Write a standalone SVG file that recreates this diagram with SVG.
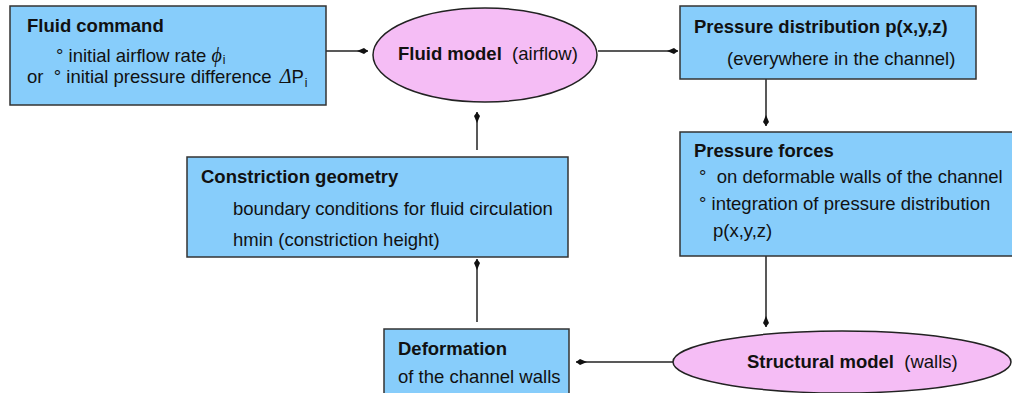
<svg xmlns="http://www.w3.org/2000/svg" width="1012" height="393" viewBox="0 0 1012 393">
<style>
.box{fill:#87CDFB;stroke:#333;stroke-width:1.5}
.ell{fill:#F5BDF5;stroke:#222;stroke-width:1.5}
.t{font-family:"Liberation Sans",Arial,sans-serif;font-size:18.5px;fill:#111;white-space:pre}
.b{font-weight:bold}
.sym{font-family:"Liberation Serif","Times New Roman",serif;font-style:italic;font-size:20px}
.sub{font-size:12px}
.c{fill:none;stroke:#222;stroke-width:1.5}
</style>
<defs>
<marker id="ah" viewBox="-12 -4 13 8" refX="0" refY="0" markerWidth="13" markerHeight="8" markerUnits="userSpaceOnUse" orient="auto">
<path d="M0,0 L-4,-3 L-11,0 L-4,3 Z" fill="#111"/>
</marker>
</defs>
<rect width="1012" height="393" fill="#fff"/>
<g id="connectors">
<path class="c" d="M326,51 H368" marker-end="url(#ah)"/>
<path class="c" d="M598,51 H678" marker-end="url(#ah)"/>
<path class="c" d="M766,79 V126" marker-end="url(#ah)"/>
<path class="c" d="M766,256 V327" marker-end="url(#ah)"/>
<path class="c" d="M673,362 H576" marker-end="url(#ah)"/>
<path class="c" d="M477,322 V259" marker-end="url(#ah)"/>
<path class="c" d="M477,150 V112" marker-end="url(#ah)"/>
</g>
<g id="fluid-command">
<rect class="box" x="10" y="6" width="316" height="99"/>
<text class="t b" x="27" y="32">Fluid command</text>
<text class="t" x="56" y="62">° initial airflow rate <tspan class="sym">ϕ</tspan><tspan class="sub" dx="1" dy="2">i</tspan></text>
<text class="t" x="27" y="83">or  ° initial pressure difference <tspan class="sym" dx="3">Δ</tspan>P<tspan class="sub" dx="1" dy="4">i</tspan></text>
</g>
<g id="fluid-model">
<ellipse class="ell" cx="485" cy="55" rx="112" ry="47"/>
<text class="t" x="398" y="60"><tspan class="b">Fluid model</tspan>  (airflow)</text>
</g>
<g id="pressure-distribution">
<rect class="box" x="680" y="6" width="296" height="73"/>
<text class="t b" x="694" y="33">Pressure distribution p(x,y,z)</text>
<text class="t" x="727" y="65">(everywhere in the channel)</text>
</g>
<g id="pressure-forces">
<rect class="box" x="680" y="132" width="340" height="124"/>
<text class="t b" x="694" y="157">Pressure forces</text>
<text class="t" x="699" y="183">°  on deformable walls of the channel</text>
<text class="t" x="699" y="210">° integration of pressure distribution</text>
<text class="t" x="713" y="237">p(x,y,z)</text>
</g>
<g id="structural-model">
<ellipse class="ell" cx="842" cy="362" rx="169" ry="31"/>
<text class="t" x="747" y="368"><tspan class="b">Structural model</tspan>  (walls)</text>
</g>
<g id="deformation">
<rect class="box" x="384" y="329" width="185" height="80"/>
<text class="t b" x="398" y="355">Deformation</text>
<text class="t" x="398" y="383">of the channel walls</text>
</g>
<g id="constriction-geometry">
<rect class="box" x="187" y="157" width="381" height="100"/>
<text class="t b" x="201" y="183">Constriction geometry</text>
<text class="t" x="233" y="215">boundary conditions for fluid circulation</text>
<text class="t" x="233" y="246">hmin (constriction height)</text>
</g>
</svg>
